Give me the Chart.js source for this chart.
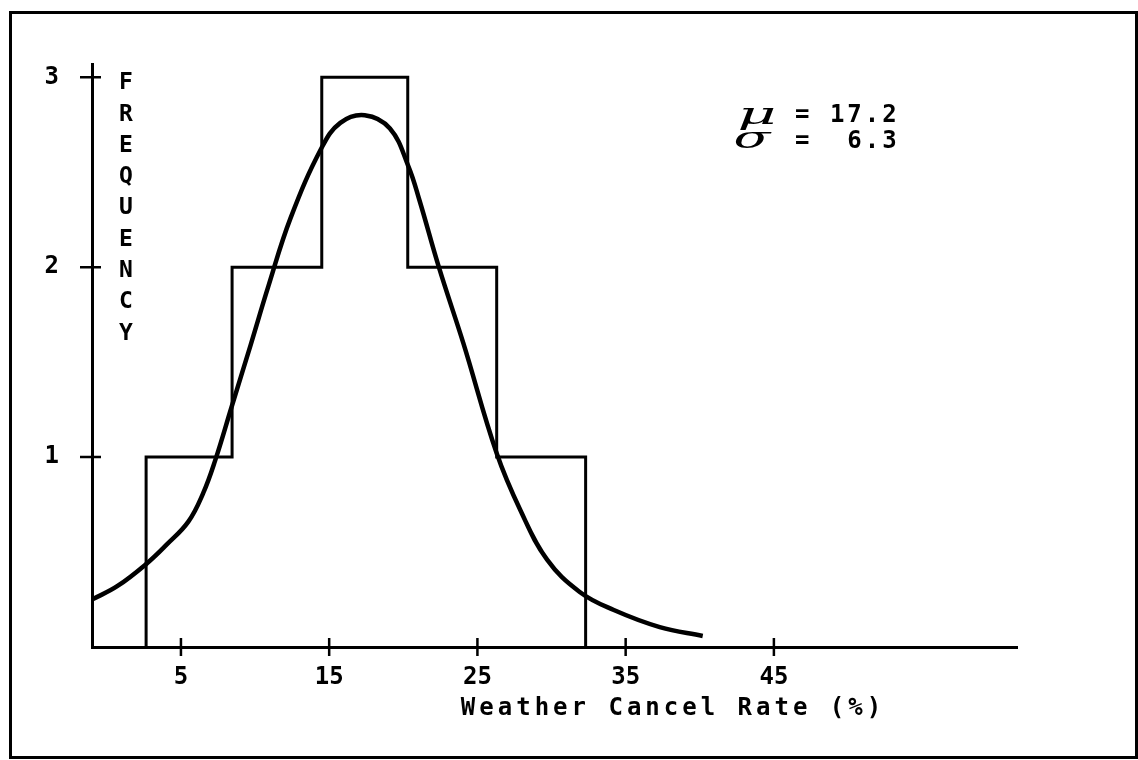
<!DOCTYPE html>
<html>
<head>
<meta charset="utf-8">
<script src="https://cdn.jsdelivr.net/npm/chart.js@4.4.1/dist/chart.umd.min.js"></script>
<style>
  html, body { margin: 0; padding: 0; background: #fff; overflow: hidden; }
  #wrap { position: relative; width: 1138px; height: 760px; }
  #frame {
    position: absolute; left: 9px; top: 11px; width: 1129px; height: 748px;
    box-sizing: border-box; border: 3px solid #000; pointer-events: none;
  }
</style>
</head>
<body>
<div id="wrap">
  <canvas id="chart" width="1138" height="760"></canvas>
  <div id="frame"></div>
</div>
<script>
// histogram (bin edges in %, counts per bin)
const binEdges = [2.65, 8.45, 14.5, 20.3, 26.3, 32.3];
const binCounts = [1, 2, 3, 2, 1];

// fitted curve
const curveX = [-1, 0.7, 2.7, 4.05, 5.5, 6.5, 7.3, 8.4, 9.7, 10.9, 12.4, 14.5, 15.75, 17.4, 19.1, 20.35, 21.1, 22.4, 24.05, 26.3, 27.9, 29.7, 31.9, 34.2, 37.3, 40.2];
const curveY = [0.25, 0.32, 0.44, 0.54, 0.66, 0.81, 0.98, 1.26, 1.59, 1.9, 2.26, 2.63, 2.76, 2.8, 2.73, 2.53, 2.35, 2.0, 1.6, 1.02, 0.72, 0.46, 0.29, 0.195, 0.105, 0.058];

const xTicks = [5, 15, 25, 35, 45];
const yTicks = [1, 2, 3];
const xTitle = 'Weather Cancel Rate (%)';
const yTitle = 'FREQUENCY';
const meanLabel = '= 17.2';
const sdLabel = '=  6.3';

const MONO = '"DejaVu Sans Mono", "Liberation Mono", monospace';

// outline of the histogram
const histPoints = [{ x: binEdges[0], y: 0 }];
binCounts.forEach((c, i) => {
  histPoints.push({ x: binEdges[i], y: c });
  histPoints.push({ x: binEdges[i + 1], y: c });
});
histPoints.push({ x: binEdges[binEdges.length - 1], y: 0 });

const curvePoints = curveX.map((x, i) => ({ x, y: curveY[i] }));

function wideGlyph(ctx, ch, cx, cy, sx) {
  ctx.save();
  ctx.translate(cx, cy);
  ctx.scale(sx, 1);
  ctx.fillText(ch, 0, 0);
  ctx.restore();
}

const decor = {
  id: 'decor',
  afterDraw(chart) {
    const { ctx, scales: { x, y } } = chart;
    ctx.save();
    ctx.strokeStyle = '#000';
    ctx.fillStyle = '#000';
    ctx.lineWidth = 2.5;

    // tick marks crossing the axes
    ctx.beginPath();
    xTicks.forEach(v => {
      const px = x.getPixelForValue(v);
      ctx.moveTo(px, y.bottom - 9);
      ctx.lineTo(px, y.bottom + 9);
    });
    yTicks.forEach(v => {
      const py = y.getPixelForValue(v);
      ctx.moveTo(x.left - 12, py);
      ctx.lineTo(x.left + 9, py);
    });
    ctx.stroke();

    ctx.textAlign = 'center';
    ctx.textBaseline = 'middle';

    // stacked y title
    ctx.font = 'bold 23px ' + MONO;
    [...yTitle].forEach((ch, i) => {
      ctx.fillText(ch, x.left + 34, y.getPixelForValue(3) + 6 + i * 31.3);
    });

    // x title
    ctx.font = 'bold 24px ' + MONO;
    ctx.letterSpacing = '4px';
    ctx.fillText(xTitle, 673, y.bottom + 62);

    // mean / sigma note
    ctx.textAlign = 'left';
    ctx.letterSpacing = '3px';
    ctx.fillText(meanLabel, 795, 116);
    ctx.fillText(sdLabel, 795, 142);
    ctx.letterSpacing = '0px';
    ctx.textAlign = 'center';
    ctx.font = 'italic 30px "DejaVu Serif", serif';
    wideGlyph(ctx, '\u03BC', 757, 116, 2.0);
    wideGlyph(ctx, '\u03C3', 752, 140, 1.8);

    ctx.restore();
  }
};

new Chart(document.getElementById('chart'), {
  type: 'scatter',
  data: {
    datasets: [
      {
        label: 'histogram',
        data: histPoints,
        showLine: true,
        borderColor: '#000',
        borderWidth: 3,
        pointRadius: 0,
        fill: false
      },
      {
        label: 'curve',
        data: curvePoints,
        showLine: true,
        borderColor: '#000',
        borderWidth: 4.5,
        pointRadius: 0,
        tension: 0.4,
        fill: false
      }
    ]
  },
  plugins: [decor],
  options: {
    responsive: false,
    animation: false,
    layout: { padding: { left: 0, top: 64, right: 121, bottom: 0 } },
    plugins: {
      legend: { display: false },
      tooltip: { enabled: false }
    },
    scales: {
      x: {
        type: 'linear',
        min: -1,
        max: 61.4,
        grid: { display: false },
        border: { display: true, color: '#000', width: 3 },
        afterBuildTicks: s => { s.ticks = xTicks.map(v => ({ value: v })); },
        afterFit: s => { s.height = 113; },
        ticks: {
          color: '#000',
          padding: 8,
          maxRotation: 0,
          font: { family: MONO, size: 24, weight: 'bold' }
        }
      },
      y: {
        type: 'linear',
        min: 0,
        max: 3.07,
        grid: { display: false },
        border: { display: true, color: '#000', width: 3 },
        afterBuildTicks: s => { s.ticks = yTicks.map(v => ({ value: v })); },
        afterFit: s => { s.width = 92; },
        ticks: {
          color: '#000',
          padding: 25,
          font: { family: MONO, size: 24, weight: 'bold' }
        }
      }
    }
  }
});
</script>
</body>
</html>
